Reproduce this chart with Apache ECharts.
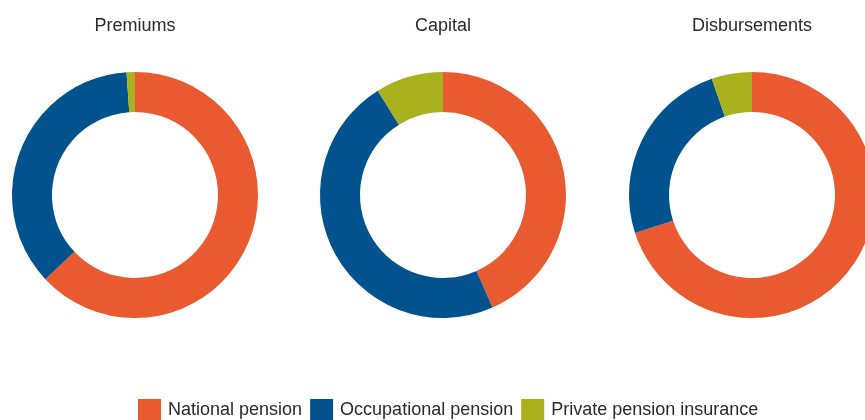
<!DOCTYPE html>
<html>
<head>
<meta charset="utf-8">
<script src="https://cdn.jsdelivr.net/npm/echarts@6/dist/echarts.min.js"></script>
<style>
html,body{margin:0;padding:0;background:#fff;}
#chart{width:865px;height:420px;}
</style>
</head>
<body>
<div id="chart"></div>
<script>
const categories = ['National pension', 'Occupational pension', 'Private pension insurance'];
const chartTitles = ['Premiums', 'Capital', 'Disbursements'];
const premiums = [63.0, 35.9, 1.1];
const capital = [43.4, 47.7, 8.9];
const disbursements = [70.0, 24.7, 5.3];
const colors = ['#EA5A31', '#02538D', '#A9B11C'];

const valueSets = [premiums, capital, disbursements];
const centersX = [135, 443, 752];
const FONT = '"Liberation Sans", Arial, sans-serif';

const chart = echarts.init(document.getElementById('chart'), null, {renderer: 'canvas'});
const option = {
  animation: false,
  color: colors,
  title: chartTitles.map((t, i) => ({
    text: t,
    left: centersX[i],
    top: 17,
    padding: 0,
    textAlign: 'center',
    textStyle: {fontFamily: FONT, fontSize: 18, fontWeight: 'normal', color: '#2a2a2a'}
  })),
  legend: {
    data: categories,
    left: 138,
    top: 399,
    padding: 0,
    icon: 'rect',
    itemWidth: 23,
    itemHeight: 22,
    itemGap: 8,
    selectedMode: false,
    textStyle: {fontFamily: FONT, fontSize: 18, color: '#2a2a2a', padding: [3, 0, 0, 2]}
  },
  series: valueSets.map((vals, i) => ({
    type: 'pie',
    name: chartTitles[i],
    center: [centersX[i], 195],
    radius: [83, 123],
    startAngle: 90,
    clockwise: true,
    avoidLabelOverlap: false,
    label: {show: false},
    labelLine: {show: false},
    emphasis: {disabled: true},
    itemStyle: {borderWidth: 0},
    data: categories.map((c, j) => ({name: c, value: vals[j]}))
  }))
};
chart.setOption(option);
</script>
</body>
</html>
